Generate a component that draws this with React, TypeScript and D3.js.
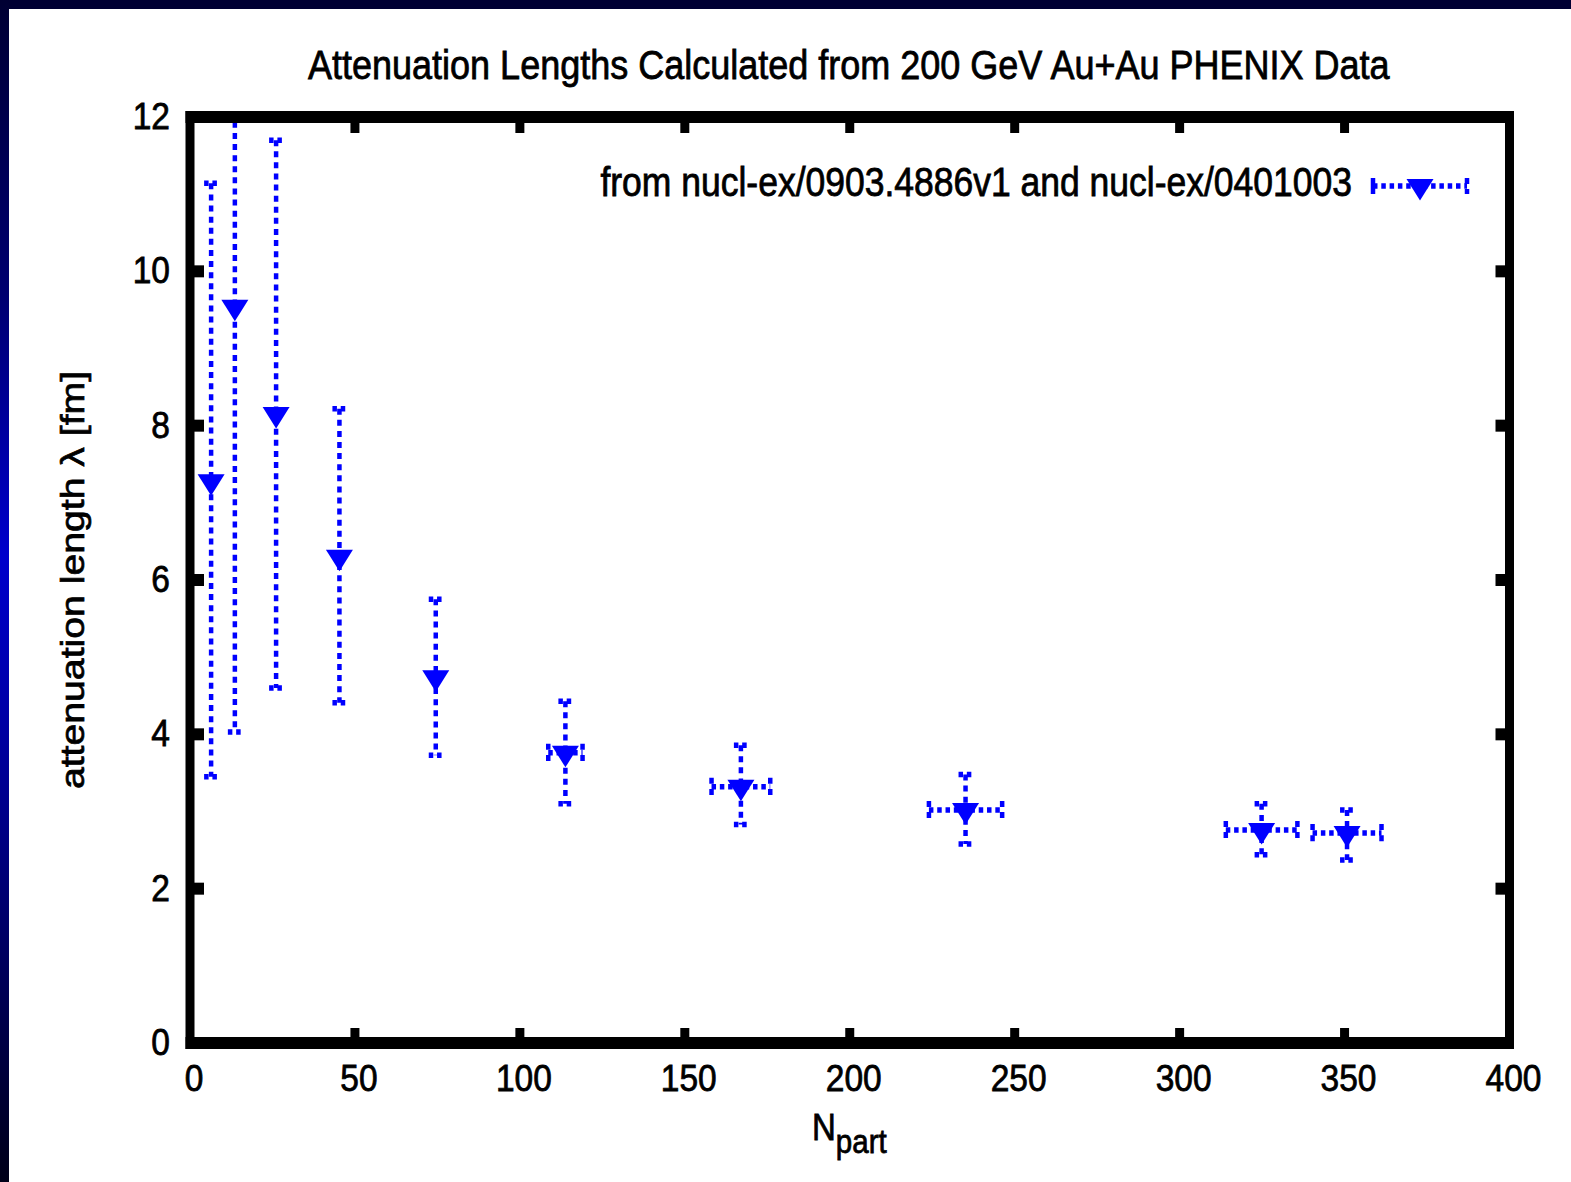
import React from 'react';
import * as d3 from 'd3';

// ---- data ----
const npart = [6.4, 13.6, 26.1, 45.3, 74.5, 113.8, 167.0, 235.1, 324.85, 350.75];
const npartErr = [1.0, 1.5, 2.0, 3.0, 3.5, 5.2, 8.9, 11.1, 10.85, 10.45];
const lambda = [7.28, 9.54, 8.15, 6.3, 4.74, 3.76, 3.32, 3.02, 2.76, 2.72];
const lambdaLow = [3.45, 4.03, 4.6, 4.41, 3.73, 3.1, 2.83, 2.58, 2.44, 2.37];
const lambdaHigh = [11.14, 12.8, 11.7, 8.22, 5.75, 4.43, 3.86, 3.48, 3.1, 3.02];
const xTicks = [0, 50, 100, 150, 200, 250, 300, 350, 400];
const yTicks = [0, 2, 4, 6, 8, 10, 12];
const titleText = 'Attenuation Lengths Calculated from 200 GeV Au+Au PHENIX Data';
const legendText = 'from nucl-ex/0903.4886v1 and nucl-ex/0401003';
const yLabelText = 'attenuation length \u03bb [fm]';

const W = 1571;
const H = 1182;
const FONT = '"Liberation Sans", Arial, Helvetica, sans-serif';
const BLUE = '#0000ff';
const SY = 1.13; // vertical stretch of the text
const TS = 0.7; // text stroke to thicken glyphs

export default function App() {
  const x = d3.scaleLinear().domain([0, 400]).range([190, 1509.5]);
  const y = d3.scaleLinear().domain([0, 12]).range([1043, 117]);
  const [x0, x1] = x.range();
  const [y0, y1] = y.range();

  const vDash = '6 5.1';
  const hDash = '4.5 3.8';
  const vW = 4.5;
  const hW = 5.5;
  const capHalfW = 7;
  const capHalfH = 9;

  const tri = (cx: number, cy: number) =>
    `M${cx - 13.5},${cy - 7}L${cx + 13.5},${cy - 7}L${cx},${cy + 14.5}Z`;

  const points = npart.map((n, i) => ({
    n,
    ne: npartErr[i],
    l: lambda[i],
    lo: lambdaLow[i],
    hi: lambdaHigh[i],
  }));

  const textProps = { fontFamily: FONT, fill: '#000', stroke: '#000', strokeWidth: TS };

  return (
    <svg
      width={W}
      height={H}
      style={{ position: 'absolute', left: 0, top: 0 }}
      xmlns="http://www.w3.org/2000/svg"
    >
      <defs>
        <linearGradient id="leftStrip" x1="0" y1="0" x2="0" y2="1">
          <stop offset="0" stopColor="#000033" />
          <stop offset="0.25" stopColor="#000070" />
          <stop offset="0.47" stopColor="#0000cc" />
          <stop offset="0.6" stopColor="#0000a8" />
          <stop offset="0.85" stopColor="#000050" />
          <stop offset="1" stopColor="#000018" />
        </linearGradient>
        <clipPath id="plotClip">
          <rect x={x0} y={y1 + 6} width={x1 - x0} height={y0 - y1 - 6} />
        </clipPath>
      </defs>

      <rect x={0} y={0} width={W} height={H} fill="#ffffff" />
      <rect x={0} y={0} width={W} height={9} fill="#000033" />
      <rect x={0} y={0} width={9} height={H} fill="url(#leftStrip)" />

      {/* error bars and markers */}
      <g clipPath="url(#plotClip)">
        {points.map((p, i) => {
          const cx = x(p.n);
          const cy = y(p.l);
          const ty = y(p.hi);
          const by = y(p.lo);
          const lx = x(p.n - p.ne);
          const rx = x(p.n + p.ne);
          return (
            <g key={i} fill="none" stroke={BLUE}>
              <line x1={cx} x2={cx} y1={ty} y2={by} strokeWidth={vW} strokeDasharray={vDash} />
              <line x1={cx - capHalfW} x2={cx + capHalfW} y1={ty} y2={ty} strokeWidth={hW} strokeDasharray={hDash} />
              <line x1={cx - capHalfW} x2={cx + capHalfW} y1={by} y2={by} strokeWidth={hW} strokeDasharray={hDash} />
              {rx - lx > 28 && (
                <g>
                  <line x1={lx} x2={rx} y1={cy} y2={cy} strokeWidth={hW} strokeDasharray={hDash} />
                  <line x1={lx} x2={lx} y1={cy - capHalfH} y2={cy + capHalfH} strokeWidth={vW} strokeDasharray={vDash} />
                  <line x1={rx} x2={rx} y1={cy - capHalfH} y2={cy + capHalfH} strokeWidth={vW} strokeDasharray={vDash} />
                </g>
              )}
              <path d={tri(cx, cy)} fill={BLUE} stroke="none" />
            </g>
          );
        })}
      </g>

      {/* frame */}
      <g stroke="#000" fill="none">
        <line x1={x0 - 4.5} x2={x1 + 4.5} y1={y1} y2={y1} strokeWidth={12} />
        <line x1={x0 - 4.5} x2={x1 + 4.5} y1={y0} y2={y0} strokeWidth={12} />
        <line x1={x0} x2={x0} y1={y1 - 6} y2={y0 + 6} strokeWidth={9} />
        <line x1={x1} x2={x1} y1={y1 - 6} y2={y0 + 6} strokeWidth={9} />
        {xTicks.slice(1, -1).map((t) => (
          <g key={'xt' + t}>
            <line x1={x(t)} x2={x(t)} y1={y0} y2={y0 - 15} strokeWidth={9} />
            <line x1={x(t)} x2={x(t)} y1={y1} y2={y1 + 16} strokeWidth={9} />
          </g>
        ))}
        {yTicks.slice(1, -1).map((t) => (
          <g key={'yt' + t}>
            <line x1={x0} x2={x0 + 14} y1={y(t)} y2={y(t)} strokeWidth={12} />
            <line x1={x1} x2={x1 - 14} y1={y(t)} y2={y(t)} strokeWidth={12} />
          </g>
        ))}
      </g>

      {/* tick labels */}
      <g {...textProps} fontSize={33.5}>
        {xTicks.map((t) => (
          <text key={'xl' + t} transform={`translate(${x(t) + 4},${1091}) scale(1,${SY})`} textAnchor="middle">
            {t}
          </text>
        ))}
        {yTicks.map((t) => (
          <text key={'yl' + t} transform={`translate(${170},${y(t) + 12}) scale(1,${SY})`} textAnchor="end">
            {t}
          </text>
        ))}
      </g>

      {/* title */}
      <text
        {...textProps}
        transform={`translate(${x(200) - 1},${79}) scale(1,${SY})`}
        textAnchor="middle"
        fontSize={36}
      >
        {titleText}
      </text>

      {/* y label */}
      <text
        {...textProps}
        transform={`translate(${84},${580}) rotate(-90) scale(${SY * 1.02},1)`}
        textAnchor="middle"
        fontSize={34}
      >
        {yLabelText}
      </text>

      {/* x label */}
      <text {...textProps} transform={`translate(${812},${1140}) scale(1,${SY})`} fontSize={33}>
        N
        <tspan dy={11.5} fontSize={29.5}>
          part
        </tspan>
      </text>

      {/* legend */}
      <text
        {...textProps}
        transform={`translate(${1352},${196}) scale(1,${SY})`}
        textAnchor="end"
        fontSize={35.5}
      >
        {legendText}
      </text>
      <g fill="none" stroke={BLUE}>
        <line x1={1373} x2={1467} y1={186} y2={186} strokeWidth={hW} strokeDasharray={hDash} />
        <line x1={1373} x2={1373} y1={186 - 8} y2={186 + 8} strokeWidth={vW} />
        <line x1={1467} x2={1467} y1={186 - 8} y2={186 + 8} strokeWidth={vW} strokeDasharray={vDash} />
        <path d={tri(1420, 186)} fill={BLUE} stroke="none" />
      </g>
    </svg>
  );
}
